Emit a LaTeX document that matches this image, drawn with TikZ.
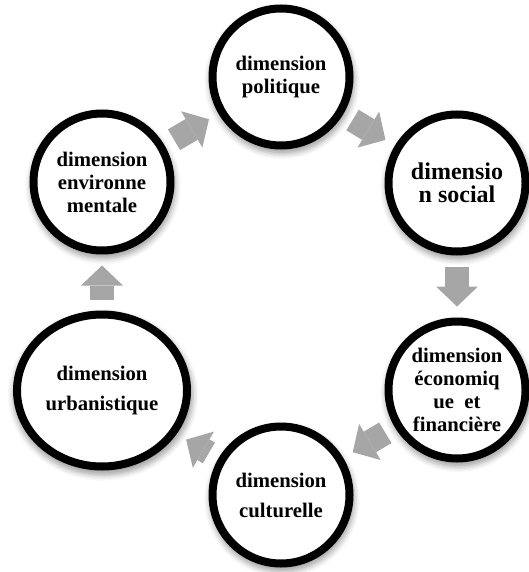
\documentclass[tikz,border=0pt]{standalone}
\usepackage{fontspec}
\setmainfont{Liberation Serif}
\usepackage{tikz}
\usetikzlibrary{shapes.geometric, arrows.meta, positioning, shadows.blur}
\definecolor{arrowgray}{HTML}{A6A6A6}
\tikzstyle{dimcircle} = [circle, 
			draw, 
			fill = white, 
			line width = 8pt, 
			minimum size = 137pt, 
			inner sep = 0pt, 
			align = center, 
			font = \bfseries\fontsize{20.7}{23}\selectfont, 
			blur shadow = {shadow xshift = 1pt, shadow yshift = -4pt, shadow scale = 1.06, shadow blur radius = 5pt, shadow opacity = 35}]
\tikzstyle{dimellipse} = [dimcircle, 
			ellipse, 
			minimum width = 170pt, 
			minimum height = 152pt]
\tikzstyle{line} = [draw = arrowgray, 
			line width = 24pt, 
			-{Triangle[length = 20pt, width = 42pt, line width = 0pt]}, 
			shorten <= 11pt, 
			shorten >= 11pt]

\begin{document}
\begin{tikzpicture}[x = 1pt, y = 1pt]
	\useasboundingbox (0,0) rectangle (528,-572);
	\node [dimcircle] (politique) at (281,-77) {dimension\\politique};
	\node [dimcircle, font = \bfseries\fontsize{24}{23}\selectfont] (social) at (457,-183) {dimensio\\n social};
	\node [dimcircle, below = 62pt of social] (economique) {dimension\\économiq\\ue~ et\\financière};
	\node [dimcircle, font = \bfseries\fontsize{20.7}{30}\selectfont] (culturelle) at (281,-495) {dimension\\culturelle};
	\node [dimcircle] (environnement) at (102,-182) {dimension\\environne\\mentale};
	\node [dimellipse, font = \bfseries\fontsize{20.7}{30}\selectfont, below = 56pt of environnement] (urbanistique) {dimension\\urbanistique};
	\path [line] (environnement) -- (politique);
	\path [line] (politique) -- (social);
	\path [line] (social) -- (economique);
	\path [line] (economique) -- (culturelle);
	\path [line] (culturelle) -- (urbanistique);
	\path [line] (urbanistique) -- (environnement);
\end{tikzpicture}
\end{document}
